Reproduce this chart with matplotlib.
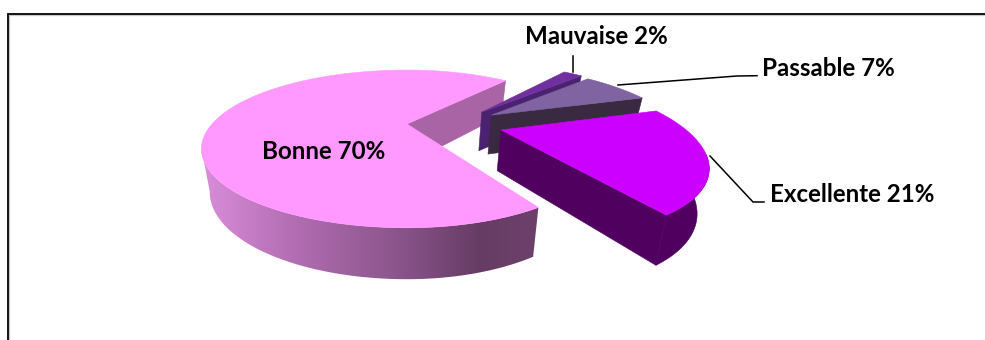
import numpy as np
import matplotlib
matplotlib.use("Agg")
import matplotlib.pyplot as plt
from matplotlib.patches import Polygon

labels = ["Bonne", "Mauvaise", "Passable", "Excellente"]
values = [70, 2, 7, 21]
top_colors = ["#FF99FF", "#7030A0", "#8064A2", "#CC00FF"]
side_colors = ["#A864A4", "#4A2270", "#392A42", "#50005F"]

START_DEG = 49.0      # Bonne begins here, going counter-clockwise
EXPLODE = 0.25
CX, CY = 407.0, 124.0
RX_RIGHT, RX_LEFT, RY = 186.0, 195.0, 71.0
PERSP = 0.316
RADII = [1.0, 1.03, 1.0, 0.97]
NUDGE = [(0, 0), (0, 0.02), (0.005, 0.03), (0.01, 0.03)]

fig = plt.figure(figsize=(9.85, 3.40), dpi=100)
ax = fig.add_axes([0, 0, 1, 1])
ax.set_xlim(0, 985)
ax.set_ylim(340, 0)
ax.axis("off")


def project(u, v, bottom=False):
    u, v = np.asarray(u, float), np.asarray(v, float)
    w = 1 + PERSP * v
    rx = np.where(u < 0, RX_LEFT, RX_RIGHT)
    sx = CX + rx * u / w
    sy = CY - RY * v / w
    if bottom:
        sx = CX + (sx - CX) * 0.96
        sy = sy + 40 * w ** -0.66
    return sx, sy


def poly(xs, ys, color, z):
    ax.add_patch(Polygon(np.column_stack([xs, ys]), closed=True, facecolor=color,
                         edgecolor=color, linewidth=0.4, zorder=z))


spans = [v / sum(values) * 360 for v in values]
slices = [(START_DEG, START_DEG + spans[0])]
cur = START_DEG
for i in (1, 2, 3):
    slices.append((cur - spans[i], cur))
    cur -= spans[i]

offsets = []
for a0, a1 in slices:
    mid = np.radians((a0 + a1) / 2)
    offsets.append((EXPLODE * np.cos(mid), EXPLODE * np.sin(mid)))
base = offsets[0]
offsets = [(o[0] - base[0] + n[0], o[1] - base[1] + n[1]) for o, n in zip(offsets, NUDGE)]


def arc(i, a0, a1, n=160):
    t = np.radians(np.linspace(a0, a1, n))
    return offsets[i][0] + RADII[i] * np.cos(t), offsets[i][1] + RADII[i] * np.sin(t)


def side_wall(i, a0, a1, color, z):
    u, v = arc(i, a0, a1)
    tx, ty = project(u, v)
    bx, by = project(u, v, bottom=True)
    poly(np.r_[tx, bx[::-1]], np.r_[ty, by[::-1]], color, z)


def gradient_wall(i, a0, a1, z):
    u, v = arc(i, a0, a1)
    tx, ty = project(u, v)
    bx, by = project(u, v, bottom=True)
    xs = np.r_[tx, bx[::-1]]
    ys = np.r_[ty, by[::-1]]
    x0, x1 = xs.min() - 1, xs.max() + 1
    y0, y1 = ys.min() - 1, ys.max() + 1
    grid_x = np.linspace(x0, x1, 600)
    stops_x = [205, 300, 400, 480, 535]
    rgb = np.stack([np.interp(grid_x, stops_x, [216, 176, 138, 102, 108]),
                    np.interp(grid_x, stops_x, [140, 108, 84, 60, 64]),
                    np.interp(grid_x, stops_x, [216, 176, 138, 100, 106])], axis=-1) / 255
    im = ax.imshow(rgb[None, :, :], extent=(x0, x1, y1, y0), aspect="auto", zorder=z,
                   interpolation="bilinear")
    clip = Polygon(np.column_stack([xs, ys]), closed=True, transform=ax.transData,
                   facecolor="none", edgecolor="none")
    ax.add_patch(clip)
    im.set_clip_path(clip)
    ax.set_xlim(0, 985)
    ax.set_ylim(340, 0)


def cut_face(i, angle, color, z):
    ou, ov = offsets[i]
    a = np.radians(angle)
    u = np.array([ou, ou + RADII[i] * np.cos(a)])
    v = np.array([ov, ov + RADII[i] * np.sin(a)])
    tx, ty = project(u, v)
    bx, by = project(u, v, bottom=True)
    poly(np.r_[tx, bx[::-1]], np.r_[ty, by[::-1]], color, z)


def top_face(i, z):
    u, v = arc(i, *slices[i])
    tx, ty = project(np.r_[offsets[i][0], u], np.r_[offsets[i][1], v])
    poly(tx, ty, top_colors[i], z)


# Bonne: far cut face, outer wall, top
cut_face(0, slices[0][0], side_colors[0], 1)
gradient_wall(0, 198, slices[0][1], 2)
top_face(0, 3)

# Mauvaise, Passable, Excellente from back to front
z = 4
for i in (1, 2, 3):
    cut_face(i, slices[i][0], side_colors[i], z)
    if i == 3:
        side_wall(i, slices[i][0], -18, side_colors[i], z)
    top_face(i, z + 1)
    z += 2

# frame: open at the right and the bottom, with a soft grey edge inside
ax.plot([8.6, 8.6], [340, 15.2], color="#C8C8C8", lw=0.9, zorder=0)
ax.plot([8.6, 985], [15.2, 15.2], color="#C8C8C8", lw=0.9, zorder=0)
ax.plot([7.5, 7.5, 985], [340, 13.7, 13.7], color="black", lw=1.3, zorder=0, solid_joinstyle="miter")

# leaders
ax.plot([573.4, 573.4], [56, 72], color="black", lw=1.1, zorder=12)
ax.plot([618, 737, 757], [85, 76, 75.7], color="black", lw=1.1, zorder=12)
ax.plot([710, 753, 764], [156, 202, 202], color="black", lw=1.1, zorder=12)

font = dict(family="Lato", weight="bold", fontsize=17.4, color="black", zorder=13,
            ha="center", va="baseline")
pct = [f"{l} {v}%" for l, v in zip(labels, values)]
ax.text(323.5, 159, pct[0], **font)
ax.text(596.5, 44, pct[1], **font)
ax.text(828.5, 76, pct[2], **font)
ax.text(852, 202, pct[3], **font)

fig.savefig("out.png", dpi=100)
